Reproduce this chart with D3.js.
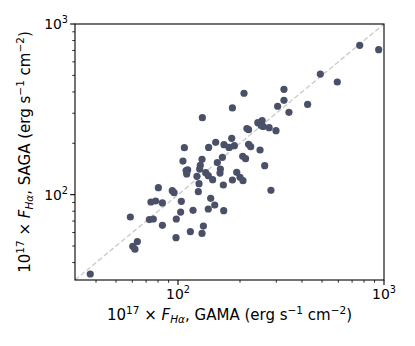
<!DOCTYPE html>
<html>
<head>
<meta charset="utf-8">
<script src="https://cdn.jsdelivr.net/npm/d3@7"></script>
<style>
  body { margin: 0; background: #fff; }
  text { font-family: "DejaVu Sans", sans-serif; fill: #000; }
</style>
</head>
<body>
<svg id="chart" width="415" height="346"></svg>
<script>
// H-alpha fluxes, 1e-17 erg/s/cm^2
var gamaFlux = [37.5, 58.7, 60.3, 61.8, 63.5, 72.6, 75.9, 73.9, 77.9, 80.3,
  84.0, 84.0, 93.8, 95.7, 97.8, 98.1, 103.0, 103.8, 105.7, 107.4,
  110.2, 111.4, 109.5, 114.8, 118.3, 123.6, 125.5, 126.5, 127.4, 128.3,
  130.8, 131.3, 130.8, 132.8, 140.3, 140.8, 136.3, 140.3, 144.1, 147.3,
  150.7, 152.4, 155.2, 159.9, 160.6, 164.2, 166.0, 166.7, 167.2, 176.9,
  182.3, 183.7, 183.7, 187.8, 192.8, 200.0, 206.8, 206.1, 209.1, 212.8,
  220.1, 220.1, 225.3, 244.0, 250.2, 253.0, 256.0, 259.0, 277.0, 263.6,
  282.6, 299.0, 304.5, 326.9, 326.9, 345.6, 425.9, 490.8, 593.3, 762.1,
  942.2, 216.0];
var sagaFlux = [34.3, 74.0, 49.8, 47.9, 53.1, 71.5, 72.0, 90.6, 91.8, 109.9,
  89.4, 66.1, 105.5, 102.7, 56.0, 72.0, 79.1, 91.4, 157.4, 188.4,
  132.2, 139.6, 138.5, 60.7, 81.0, 128.0, 104.1, 116.0, 141.3, 148.5,
  161.0, 282.5, 59.3, 65.5, 82.4, 189.2, 134.5, 129.2, 95.2, 122.4,
  87.0, 202.6, 154.2, 133.9, 141.3, 165.4, 113.9, 80.6, 196.2, 189.2,
  213.8, 322.1, 121.9, 193.6, 135.2, 126.4, 120.8, 167.8, 392.8, 162.5,
  240.4, 197.2, 191.0, 264.0, 182.7, 254.0, 272.0, 251.0, 247.0, 147.9,
  106.0, 237.0, 329.6, 414.3, 357.0, 303.7, 338.1, 508.9, 457.1, 750.2,
  707.3, 244.0];
var axisRange = [Math.pow(10, 1.5), 1000];
var majorTicks = [100, 1000];
var minorTicks = [40, 50, 60, 70, 80, 90, 200, 300, 400, 500, 600, 700, 800, 900];

var svg = d3.select('#chart');
var margin = {left: 75, right: 31, top: 24, bottom: 66};
var width = 415 - margin.left - margin.right;
var height = 346 - margin.top - margin.bottom;

var x = d3.scaleLog().domain(axisRange).range([0, width]);
var y = d3.scaleLog().domain(axisRange).range([height, 0]);

var g = svg.append('g').attr('transform', 'translate(' + margin.left + ',' + margin.top + ')');

// 1:1 line
g.append('line')
  .attr('x1', x(axisRange[0])).attr('y1', y(axisRange[0]))
  .attr('x2', x(axisRange[1])).attr('y2', y(axisRange[1]))
  .attr('stroke', '#cccccc').attr('stroke-width', 1.4)
  .attr('stroke-dasharray', '5,2.5');

g.selectAll('circle.pt').data(gamaFlux).enter().append('circle')
  .attr('class', 'pt')
  .attr('cx', function(d) { return x(d); })
  .attr('cy', function(d, i) { return y(sagaFlux[i]); })
  .attr('r', 3.6)
  .attr('fill', '#4a5068');

// frame
g.append('rect').attr('width', width).attr('height', height)
  .attr('fill', 'none').attr('stroke', '#000').attr('stroke-width', 1.1);

function supLabel(sel, base, sup) {
  sel.append('tspan').text(base);
  sel.append('tspan').attr('dy', -6).attr('font-size', '9.7px').text(sup);
}

// x axis ticks
var xa = g.append('g').attr('transform', 'translate(0,' + height + ')');
xa.selectAll('line.minor').data(minorTicks).enter().append('line')
  .attr('x1', x).attr('x2', x).attr('y1', 0).attr('y2', 2.8)
  .attr('stroke', '#000').attr('stroke-width', 0.8);
xa.selectAll('line.major').data(majorTicks).enter().append('line')
  .attr('x1', x).attr('x2', x).attr('y1', 0).attr('y2', 4.9)
  .attr('stroke', '#000').attr('stroke-width', 1.1);
xa.selectAll('text').data(majorTicks).enter().append('text')
  .attr('x', x).attr('y', 19).attr('text-anchor', 'middle')
  .attr('font-size', '13.9px')
  .each(function(d) { supLabel(d3.select(this), '10', String(Math.log10(d))); });

// y axis ticks
var ya = g.append('g');
ya.selectAll('line.minor').data(minorTicks).enter().append('line')
  .attr('y1', y).attr('y2', y).attr('x1', 0).attr('x2', -2.8)
  .attr('stroke', '#000').attr('stroke-width', 0.8);
ya.selectAll('line.major').data(majorTicks).enter().append('line')
  .attr('y1', y).attr('y2', y).attr('x1', 0).attr('x2', -4.9)
  .attr('stroke', '#000').attr('stroke-width', 1.1);
ya.selectAll('text').data(majorTicks).enter().append('text')
  .attr('x', -7).attr('y', function(d) { return y(d) + 5; }).attr('text-anchor', 'end')
  .attr('font-size', '13.9px')
  .each(function(d) { supLabel(d3.select(this), '10', String(Math.log10(d))); });

function fluxLabel(sel, survey) {
  sel.append('tspan').text('10');
  sel.append('tspan').attr('dy', -6.5).attr('font-size', '10.5px').text('17');
  sel.append('tspan').attr('dy', 6.5).text(' \u00d7 ');
  sel.append('tspan').attr('font-style', 'italic').text('F');
  sel.append('tspan').attr('dy', 3).attr('font-size', '10.5px').attr('font-style', 'italic').text('H\u03b1');
  sel.append('tspan').attr('dy', -3).text(', ' + survey + ' (erg s');
  sel.append('tspan').attr('dy', -6.5).attr('font-size', '10.5px').text('\u22121');
  sel.append('tspan').attr('dy', 6.5).text(' cm');
  sel.append('tspan').attr('dy', -6.5).attr('font-size', '10.5px').text('\u22122');
  sel.append('tspan').attr('dy', 6.5).text(')');
}

g.append('text')
  .attr('x', width / 2).attr('y', height + 40).attr('text-anchor', 'middle')
  .attr('font-size', '15px')
  .call(fluxLabel, 'GAMA');

g.append('text')
  .attr('transform', 'translate(' + (-45) + ',' + (height / 2) + ') rotate(-90)')
  .attr('text-anchor', 'middle')
  .attr('font-size', '15px')
  .call(fluxLabel, 'SAGA');
</script>
</body>
</html>
